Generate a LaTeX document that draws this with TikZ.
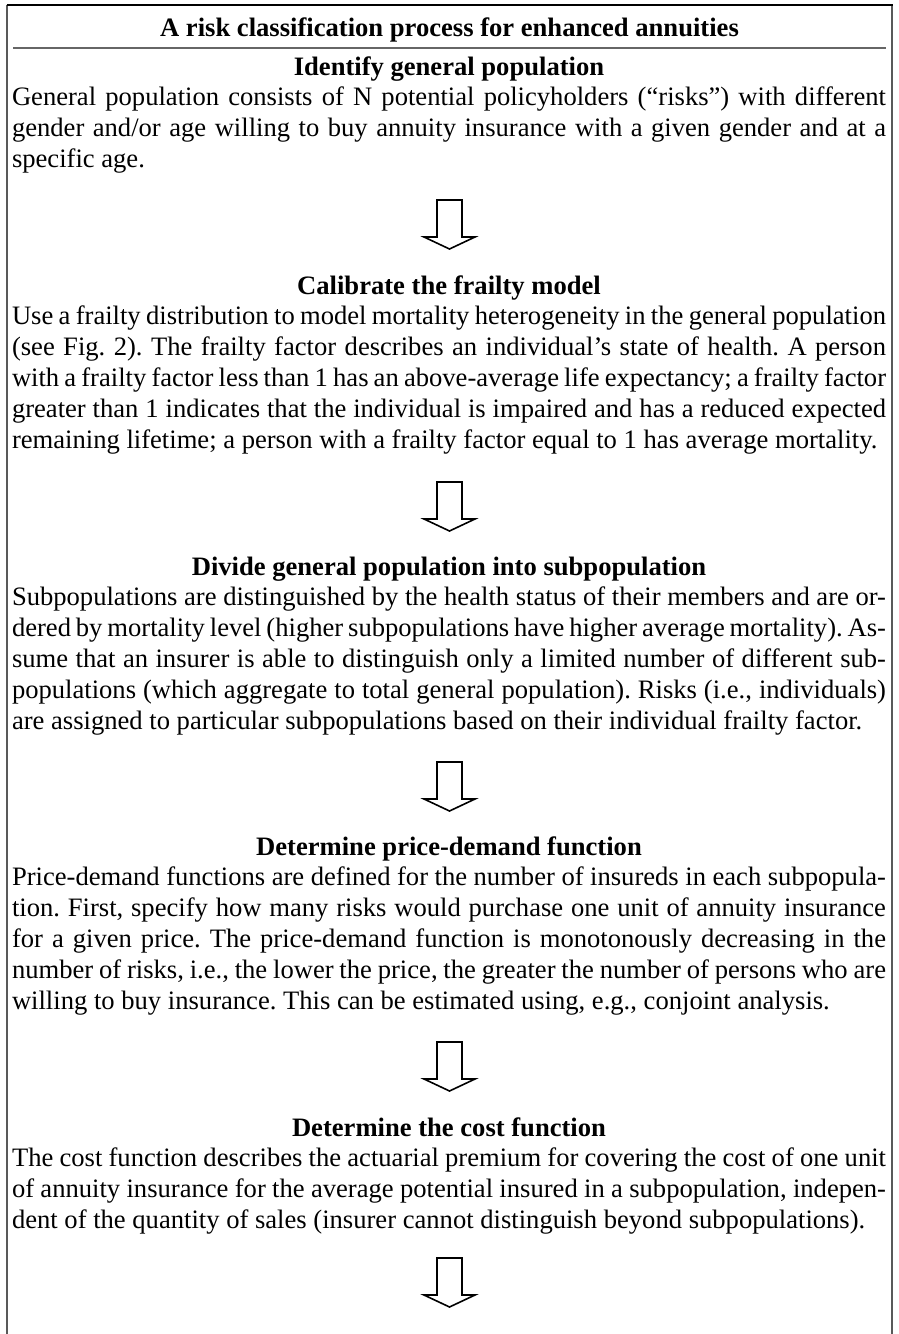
\documentclass[tikz,border=0pt]{standalone}
\usepackage{fontspec}
\setmainfont{Liberation Serif}
\usetikzlibrary{positioning}

\begin{document}
\begin{tikzpicture}
  [x=0.5pt,y=-0.5pt,
   every node/.style={inner sep=0pt,font=\fontsize{13.3}{15.4}\selectfont\frenchspacing},
   stage/.style={anchor=base,text width=437pt,align=justify},
   hollowarrow/.style={draw,fill=white,line width=0.8pt,line join=miter}]
  \useasboundingbox (0,0) rectangle (899,1334);

  % frame, open at the bottom
  \draw[black!65,line width=1pt] (7,1334) -- (7,5);
  \draw[black!65,line width=1pt] (892,1334) -- (892,5);
  \draw[line width=0.8pt] (6.5,5) -- (892.5,5);
  \draw[black!60,line width=0.9pt] (13,48) -- (886,48);

  \node[anchor=base,font=\fontsize{13.3}{15.4}\selectfont\bfseries] (title) at (449.5,36)
    {A risk classification process for enhanced annuities};

  \node[stage] (s1) at (449,75) {{\centering\bfseries Identify general population\par}%
    General population consists of N potential policyholders (“risks”) with different\linebreak
    gender and/or age willing to buy annuity insurance with a given gender and at a\linebreak
    specific age.};

  \node[stage] (s2) at (449,294) {{\centering\bfseries Calibrate the frailty model\par}%
    Use a frailty distribution to model mortality heterogeneity in the general population\linebreak
    (see Fig.~2). The frailty factor describes an individual’s state of health. A person\linebreak
    with a frailty factor less than 1 has an above-average life expectancy; a frailty factor\linebreak
    greater than 1 indicates that the individual is impaired and has a reduced expected\linebreak
    remaining lifetime; a person with a frailty factor equal to 1 has average mortality.};

  \node[stage] (s3) at (449,575) {{\centering\bfseries Divide general population into subpopulation\par}%
    Subpopulations are distinguished by the health status of their members and are or-\linebreak
    dered by mortality level (higher subpopulations have higher average mortality). As-\linebreak
    sume that an insurer is able to distinguish only a limited number of different sub-\linebreak
    populations (which aggregate to total general population). Risks (i.e., individuals)\linebreak
    are assigned to particular subpopulations based on their individual frailty factor.};

  \node[stage] (s4) at (449,855) {{\centering\bfseries Determine price-demand function\par}%
    Price-demand functions are defined for the number of insureds in each subpopula-\linebreak
    tion. First, specify how many risks would purchase one unit of annuity insurance\linebreak
    for a given price. The price-demand function is monotonously decreasing in the\linebreak
    number of risks, i.e., the lower the price, the greater the number of persons who are\linebreak
    willing to buy insurance. This can be estimated using, e.g., conjoint analysis.};

  \node[stage] (s5) at (449,1136) {{\centering\bfseries Determine the cost function\par}%
    The cost function describes the actuarial premium for covering the cost of one unit\linebreak
    of annuity insurance for the average potential insured in a subpopulation, indepen-\linebreak
    dent of the quantity of sales (insurer cannot distinguish beyond subpopulations).};

  % hollow arrows between the stages
  \foreach \y in {200,482,762,1042,1258}
    \draw[hollowarrow,shift={(449.5,\y)}] (-12.5,0) -- (12.5,0) -- (12.5,37) -- (25.5,37)
      -- (0,49) -- (-25.5,37) -- (-12.5,37) -- cycle;

\end{tikzpicture}
\end{document}
